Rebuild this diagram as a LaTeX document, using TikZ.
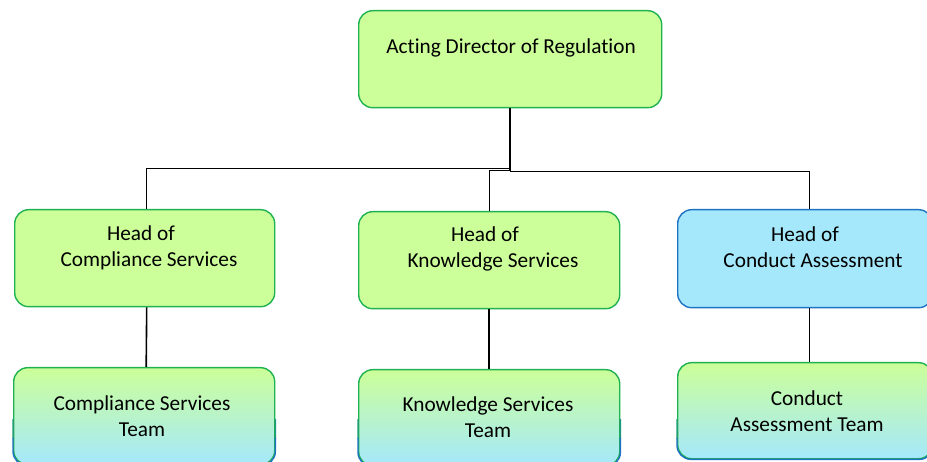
\documentclass[tikz,border=0pt]{standalone}
\usepackage{fontspec}
\setmainfont[Ligatures=NoCommon]{Carlito}
\definecolor{gfill}{RGB}{204,255,153}
\definecolor{gline}{RGB}{30,178,80}
\definecolor{bfill}{RGB}{165,232,252}
\definecolor{bline}{RGB}{30,115,195}
\begin{document}
\begin{tikzpicture}[x=1pt,y=-1pt,
  box/.style={draw, rounded corners=14pt, line width=1.4pt, inner sep=0pt, anchor=north west},
  greenbox/.style={box, draw=gline, fill=gfill},
  bluebox/.style={box, draw=bline, fill=bfill},
  mixbox/.style={box, draw=gline, top color=gfill, bottom color=bfill, middle color=bfill!50!gfill},
  lbl/.style={font=\fontsize{21.3}{25.8}\selectfont, align=center, inner sep=0pt},
  conn/.style={line width=1.6pt},
  thinconn/.style={line width=0.9pt},
  edgeline/.style={line width=1.4pt, rounded corners=14pt}]
\useasboundingbox (0,0) rectangle (927,462);
% boxes
\node[greenbox, minimum width=303pt, minimum height=97pt] (top) at (358,10) {};
\node[greenbox, minimum width=260pt, minimum height=97pt] (hc) at (14,209) {};
\node[greenbox, minimum width=261pt, minimum height=97pt] (hk) at (358,211) {};
\node[bluebox, minimum width=255pt, minimum height=98pt] (hd) at (677,209) {};
\node[mixbox, minimum width=261pt, minimum height=97pt] (tc) at (13,367) {};
\node[mixbox, minimum width=261pt, minimum height=96pt] (tk) at (358,369) {};
\node[mixbox, minimum width=255pt, minimum height=96pt] (td) at (677,362) {};
% lower borders of the mixed boxes turn from green to blue
\begin{scope}
\clip (0,420) rectangle (927,438);
\foreach \b in {tc,tk,td}
  \draw[edgeline, draw=bline!40!gline] (\b.north west) rectangle (\b.south east);
\end{scope}
\begin{scope}
\clip (0,438) rectangle (927,470);
\foreach \b in {tc,tk,td}
  \draw[edgeline, draw=bline] (\b.north west) rectangle (\b.south east);
\end{scope}
% labels
\node[lbl] (ltop) at (511,48) {Acting Director of Regulation};
\node[lbl] (lhc) at (149,247.5) {Head of\hspace*{16pt}\\Compliance Services};
\node[lbl] (lhk) at (493,249) {Head of\hspace*{16pt}\\Knowledge Services};
\node[lbl] (lhd) at (813,247.5) {Head of\hspace*{16pt}\\Conduct Assessment};
\node[lbl] (ltc) at (142,416.5) {Compliance Services\\Team};
\node[lbl] (ltk) at (488,417.5) {Knowledge Services\\Team};
\node[lbl] (ltd) at (807,411) {Conduct\\Assessment Team};
% connectors
\coordinate (j) at (top.south |- 0,170);
\draw[conn] (top.south) -- (j);
\draw[thinconn] (j) -- ++(0,-2) -| ([xshift=2pt]hc.north);
\draw[thinconn] (j) -| (hk.north);
\draw[thinconn] (j) -- ++(0,1) -| ([xshift=4pt]hd.north);
\draw[conn] ([xshift=2pt]hc.south) -- ([xshift=2pt]tc.north);
\draw[conn] (hk.south) -- (tk.north);
\draw[thinconn] ([xshift=4pt]hd.south) -- ([xshift=4pt]td.north);
\end{tikzpicture}
\end{document}
